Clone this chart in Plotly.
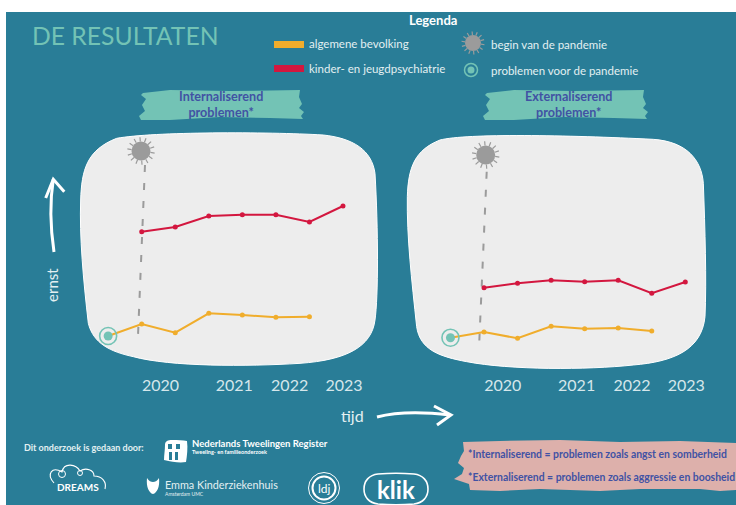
import math
import plotly.graph_objects as go

W, H = 736, 505

# ---- data (severity, arbitrary units) ----
measure_index = [-1, 0, 1, 2, 3, 4, 5, 6]
year_labels = ["2020", "2021", "2022", "2023"]
year_positions = [0.56, 2.76, 4.41, 6.03]
int_general = [34, 46, 37.3, 56.7, 55, 52.7, 53.3]
int_clinical = [138.3, 143, 154, 155.3, 155.3, 148, 164]
ext_general = [32.3, 38, 31.7, 43.7, 41.3, 42, 39]
ext_clinical = [82.3, 86.7, 89.7, 88.3, 89.7, 76.7, 88]

TEAL = "#297D97"
MINT = "#73C3B5"
YELLOW = "#F0AD2C"
RED = "#D3173F"
GREY = "#9B9B9B"
BLOB = "#EDEDED"
INK = "#4152A4"
PINK = "#DDB0AB"
PALE = "#E3F0F2"
FONT = "Lato, sans-serif"


def fx(v):
    return v / W


def fy(v):
    return 1 - v / H


def bez(start, curves, ox=0.0, oy=0.0, s=1.0):
    def p(pt):
        return f"{fx(ox + pt[0] * s):.5f},{fy(oy + pt[1] * s):.5f}"
    out = "M" + p(start)
    for c in curves:
        out += " C" + " ".join(p(q) for q in c)
    return out


def poly(points):
    return "M" + " L".join(f"{fx(a):.5f},{fy(b):.5f}" for a, b in points) + " Z"


shapes = []


def add_path(path, fill=None, line=None, width=0, dash=None):
    shapes.append(dict(type="path", xref="paper", yref="paper", path=path, layer="below",
                       fillcolor=fill or "rgba(0,0,0,0)",
                       line=dict(color=line or "rgba(0,0,0,0)", width=width, dash=dash or "solid")))


def add_circle(cx, cy, r, fill=None, line=None, width=0):
    shapes.append(dict(type="circle", xref="paper", yref="paper", layer="below",
                       x0=fx(cx - r), x1=fx(cx + r), y0=fy(cy + r), y1=fy(cy - r),
                       fillcolor=fill or "rgba(0,0,0,0)",
                       line=dict(color=line or "rgba(0,0,0,0)", width=width)))


def add_virus(cx, cy, r):
    for k in range(14):
        a = 2 * math.pi * k / 14 + 0.15
        add_path(poly([(cx + r * math.cos(a), cy + r * math.sin(a)),
                       (cx + 1.45 * r * math.cos(a), cy + 1.45 * r * math.sin(a))]),
                 line=GREY, width=1.2)
    add_circle(cx, cy, r, fill=GREY)


# background
shapes.append(dict(type="rect", xref="paper", yref="paper", layer="below",
                   x0=fx(6), x1=1, y0=0, y1=fy(12), fillcolor=TEAL, line=dict(width=0)))

# panels
add_path(bez((62, 210), [[(65, 120), (80, 60), (170, 25)], [(280, 5), (620, 5), (790, 15)],
                         [(880, 25), (935, 60), (945, 130)], [(955, 300), (955, 500), (945, 570)],
                         [(935, 650), (860, 690), (720, 700)], [(560, 710), (330, 710), (220, 680)],
                         [(150, 665), (100, 640), (85, 580)], [(70, 450), (58, 320), (62, 210)]],
             60, 130, 1 / 3) + " Z", fill=BLOB, line="#FFFFFF", width=1)
add_path(bez((22, 200), [[(25, 110), (45, 60), (120, 30)], [(200, 10), (500, 15), (760, 28)],
                         [(860, 35), (905, 90), (910, 160)], [(915, 300), (920, 450), (915, 560)],
                         [(905, 660), (820, 695), (700, 705)], [(560, 720), (330, 720), (200, 695)],
                         [(120, 680), (60, 660), (50, 590)], [(35, 450), (20, 320), (22, 200)]],
             400, 130, 1 / 3) + " Z", fill=BLOB, line="#FFFFFF", width=1)

# pandemic markers
add_virus(141, 151, 9.5)
add_virus(485.7, 155, 9.5)
add_virus(473, 43, 8)
add_path(poly([(145, 165), (137.7, 343)]).replace(" Z", ""), line=GREY, width=2, dash="7px,11px")
add_path(poly([(486.7, 171.7), (479, 348)]).replace(" Z", ""), line=GREY, width=2, dash="7px,11px")

# legend swatches
shapes.append(dict(type="rect", xref="paper", yref="paper", layer="below", x0=fx(274), x1=fx(304),
                   y0=fy(48), y1=fy(41), fillcolor=YELLOW, line=dict(width=0)))
shapes.append(dict(type="rect", xref="paper", yref="paper", layer="below", x0=fx(274), x1=fx(304),
                   y0=fy(72), y1=fy(65), fillcolor=RED, line=dict(width=0)))
add_circle(471, 70, 6.5, line=MINT, width=1.5)
add_circle(471, 70, 3.5, fill=MINT)

# torn banners
banner = [(143, 93), (170, 90), (230, 91), (300, 90), (299, 97), (302, 104), (299, 108), (304, 112),
          (301, 116), (303, 119), (270, 118), (220, 117), (170, 120), (141, 120), (139, 116),
          (145, 111), (142, 105), (146, 99), (141, 95)]
add_path(poly(banner), fill=MINT)
add_path(poly([(a + 344, b) for a, b in banner]), fill=MINT)
pink = [(463, 442), (500, 441), (560, 440), (620, 442), (680, 441), (736, 443), (736, 490), (720, 491),
        (700, 489), (640, 489), (600, 491), (540, 489), (500, 491), (470, 490), (469, 484), (454, 479),
        (462, 474), (464, 468), (458, 463), (461, 456), (464, 451)]
add_path(poly(pink), fill=PINK)

# hand-drawn arrows
add_path(bez((54, 252), [[(50, 225), (50, 200), (53.3, 179.3)]]), line="#FFFFFF", width=3)
add_path(poly([(45.7, 198), (53.3, 179.3), (64.3, 191.7)]).replace(" Z", ""), line="#FFFFFF", width=3)
add_path(bez((377, 417), [[(400, 411), (425, 412), (450, 415)]]), line="#FFFFFF", width=3)
add_path(poly([(434, 406), (451, 415), (437, 425)]).replace(" Z", ""), line="#FFFFFF", width=3)

# logo outlines
add_path(bez((165, 445), [[(165, 441), (168, 440), (172, 440)], [(178, 440), (183, 440), (187, 441)],
                          [(188, 448), (187, 456), (186, 462)], [(180, 463), (172, 462), (164, 460)],
                          [(164, 455), (165, 450), (165, 445)]]) + " Z", fill="#FFFFFF")
for xa, xb, ya, yb in [(168, 172, 444, 449), (176, 180, 444, 449), (169, 172, 452, 460), (175, 178, 452, 460)]:
    shapes.append(dict(type="rect", xref="paper", yref="paper", layer="below", x0=fx(xa), x1=fx(xb),
                       y0=fy(yb), y1=fy(ya), fillcolor=TEAL, line=dict(width=0)))
add_path(bez((54, 483), [[(46, 474), (52, 466), (62, 472)], [(64, 462), (76, 464), (80, 471)],
                         [(86, 467), (94, 470), (94, 476)], [(102, 476), (107, 482), (105, 489)]]),
         line="#FFFFFF", width=1.1)
add_circle(62, 474, 3.5, line="#FFFFFF", width=1)
add_circle(80, 473, 2.5, line="#FFFFFF", width=1)
add_path(bez((147, 478), [[(146, 487), (149, 493), (153, 494)], [(157, 493), (160, 487), (159, 478)],
                          [(157, 481), (155, 482), (153, 482)], [(151, 482), (149, 481), (147, 478)]]) + " Z",
         fill="#FFFFFF")
add_circle(324, 488, 15.5, line="#FFFFFF", width=1)
add_circle(324, 488, 11.5, line="#FFFFFF", width=2)
add_path(bez((378, 474), [[(390, 473), (402, 473), (414, 474)], [(423, 475), (428, 481), (428, 489)],
                          [(428, 497), (423, 503), (414, 504)], [(402, 505), (390, 505), (378, 504)],
                          [(369, 503), (364, 497), (364, 489)], [(364, 481), (369, 475), (378, 474)]]) + " Z",
         line="#FFFFFF", width=1.6)

# ---- texts ----
annotations = []


def txt(x, y, s, size, color=PALE, anchor="left", bold=False, angle=0):
    shift = 2 if anchor == "left" else 0
    annotations.append(dict(x=fx(x - shift), y=fy(y), xref="paper", yref="paper",
                            text=f"<b>{s}</b>" if bold else s,
                            showarrow=False, xanchor=anchor, yanchor="middle", textangle=angle,
                            font=dict(family=FONT, size=size, color=color)))


txt(32, 35, "DE RESULTATEN", 24.7, MINT)
txt(433, 20, "Legenda", 13, "#FFFFFF", "center", True)
txt(309, 44, "algemene bevolking", 11.5)
txt(309, 68, "kinder- en jeugdpsychiatrie", 11.5)
txt(491, 45, "begin van de pandemie", 11.5)
txt(491, 70, "problemen voor de pandemie", 11.5)
txt(221, 104.5, "Internaliserend<br>problemen*", 12.6, INK, "center", True)
txt(568, 104.5, "Externaliserend<br>problemen*", 12.6, INK, "center", True)
txt(52, 285, "ernst", 15, angle=-90, anchor="center")
txt(352, 415, "tijd", 16, anchor="center")
txt(24, 447, "Dit onderzoek is gedaan door:", 9, bold=True)
txt(192, 443, "Nederlands Tweelingen Register", 9.5, "#FFFFFF", bold=True)
txt(192, 452, "Tweeling- en familieonderzoek", 5.5, "#FFFFFF", bold=True)
txt(78, 487, "DREAMS", 10, "#FFFFFF", "center", True)
txt(165, 484, "Emma Kinderziekenhuis", 10.8)
txt(165, 494, "Amsterdam UMC", 5)
txt(324, 488, "ldj", 12, "#FFFFFF", "center")
txt(396, 489, "klik", 24, "#FFFFFF", "center", True)
txt(468, 454, "*Internaliserend = problemen zoals angst en somberheid", 10.4, INK, bold=True)
txt(468, 477, "*Externaliserend = problemen zoals aggressie en boosheid", 10.4, INK, bold=True)

# ---- figure ----
fig = go.Figure()


def add_panel(general, clinical, xa, ya):
    fig.add_trace(go.Scatter(x=measure_index[:len(general)], y=general, mode="lines+markers", xaxis=xa, yaxis=ya,
                             line=dict(color=YELLOW, width=2), marker=dict(color=YELLOW, size=5),
                             showlegend=False, hoverinfo="skip"))
    fig.add_trace(go.Scatter(x=measure_index[1:], y=clinical, mode="lines+markers", xaxis=xa, yaxis=ya,
                             line=dict(color=RED, width=2), marker=dict(color=RED, size=5),
                             showlegend=False, hoverinfo="skip"))
    fig.add_trace(go.Scatter(x=measure_index[:1], y=general[:1], mode="markers", xaxis=xa, yaxis=ya,
                             marker=dict(color=MINT, size=9), showlegend=False, hoverinfo="skip"))
    fig.add_trace(go.Scatter(x=measure_index[:1], y=general[:1], mode="markers", xaxis=xa, yaxis=ya,
                             marker=dict(color="rgba(0,0,0,0)", size=17, line=dict(color=MINT, width=1.6)),
                             showlegend=False, hoverinfo="skip"))


add_panel(int_general, int_clinical, "x", "y")
add_panel(ext_general, ext_clinical, "x2", "y2")

x_common = dict(tickmode="array", tickvals=year_positions, ticktext=year_labels, showgrid=False, zeroline=False,
                showline=False, ticks="outside", ticklen=1, tickcolor="rgba(0,0,0,0)",
                tickfont=dict(family=FONT, size=16, color="#D5E7EB"))
y_common = dict(range=[0, 240], domain=[fy(370), fy(130)], visible=False, showgrid=False, zeroline=False)

fig.update_layout(
    width=W, height=H, margin=dict(l=0, r=0, t=0, b=0), paper_bgcolor="#FFFFFF", plot_bgcolor="rgba(0,0,0,0)",
    showlegend=False, shapes=shapes, annotations=annotations,
    xaxis={**x_common, "domain": [fx(70), fx(375)], "range": [-2.137, 6.954], "anchor": "y"},
    yaxis={**y_common, "anchor": "x"},
    xaxis2={**x_common, "domain": [fx(410), fx(720)], "range": [-2.206, 7.034], "anchor": "y2"},
    yaxis2={**y_common, "anchor": "x2"},
)

fig.write_html("out.html", config=dict(displayModeBar=False),
               post_script="document.body.style.margin='0';document.body.style.overflow='hidden';")
